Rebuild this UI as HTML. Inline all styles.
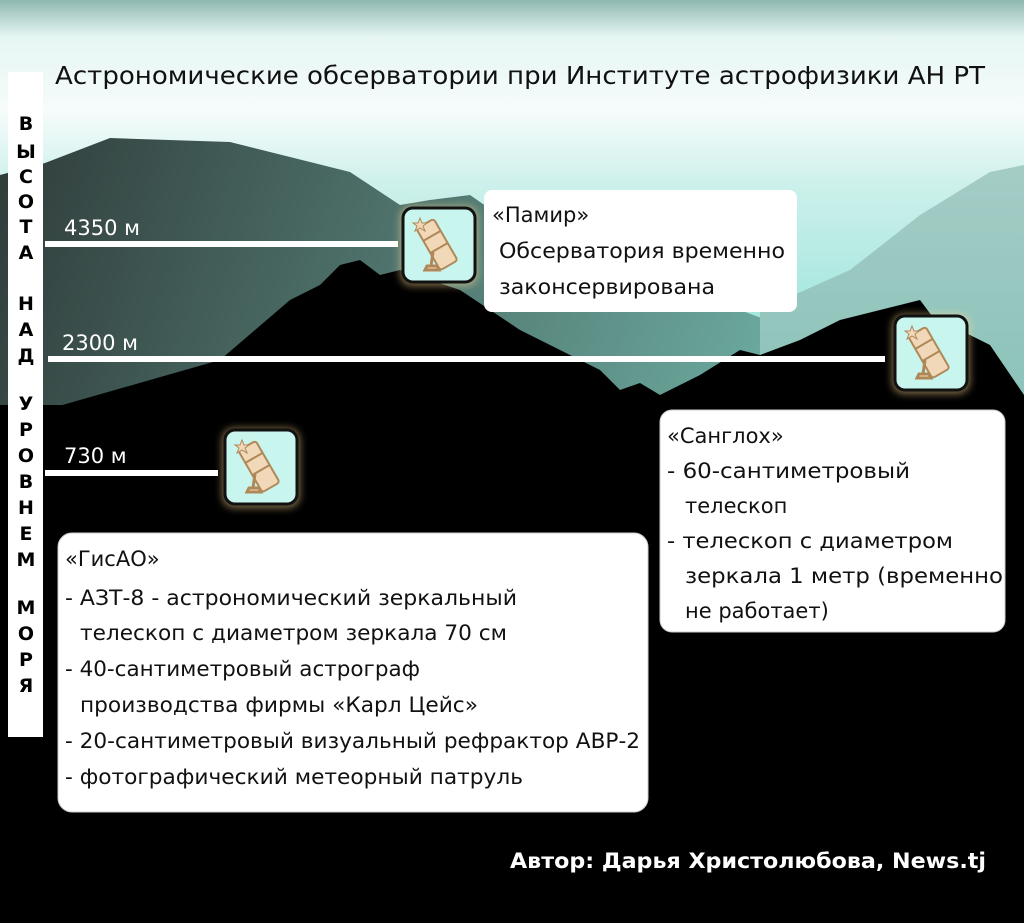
<!DOCTYPE html>
<html><head><meta charset="utf-8"><style>
html,body{margin:0;padding:0;background:#000}
svg{display:block}
text{font-family:"DejaVu Sans","Liberation Sans",sans-serif;}
</style></head><body>
<svg width="1024" height="923" viewBox="0 0 1024 923" xmlns="http://www.w3.org/2000/svg">
<defs>
<linearGradient id="sky" x1="0" y1="0" x2="0" y2="1">
<stop offset="0" stop-color="#8fb8b0"/>
<stop offset="0.04" stop-color="#e6f6f3"/>
<stop offset="0.12" stop-color="#f6fcfb"/>
<stop offset="0.2" stop-color="#cdf0eb"/>
<stop offset="0.4" stop-color="#92e3d8"/>
<stop offset="1" stop-color="#6fdccd"/>
</linearGradient>
<linearGradient id="back" x1="0" y1="0" x2="1" y2="0.3">
<stop offset="0" stop-color="#2f3c3a"/>
<stop offset="0.4" stop-color="#4a6a64"/>
<stop offset="1" stop-color="#6fb0a4"/>
</linearGradient>
<linearGradient id="right" x1="0" y1="0" x2="0" y2="1">
<stop offset="0" stop-color="#a4ccc5"/>
<stop offset="1" stop-color="#55b0a2"/>
</linearGradient>
<filter id="glow" x="-30%" y="-30%" width="160%" height="160%"><feGaussianBlur stdDeviation="4"/></filter>
<g id="tel">
<rect x="0" y="0" width="72" height="74" rx="10" fill="#c8f6ef" stroke="#111" stroke-width="3"/>
<g transform="translate(36,40) rotate(-30)">
<rect x="-10" y="-28" width="20" height="48" rx="3" fill="#f0d8b8" stroke="#b08858" stroke-width="2"/>
<line x1="-10" y1="-14" x2="10" y2="-14" stroke="#b08858" stroke-width="2"/>
<line x1="-10" y1="0" x2="10" y2="0" stroke="#b08858" stroke-width="2"/>
</g>
<path d="M30 44 L28 58 M22 62 L36 62 L34 58 L24 58 Z" stroke="#b08858" stroke-width="3" fill="#f0d8b8"/>
<polygon points="17,10 19,15 24,15 20,18 22,23 17,20 12,23 14,18 10,15 15,15" fill="#f0d8b8" stroke="#b08858"/>
</g>
</defs>
<rect width="1024" height="923" fill="url(#sky)"/>
<path d="M0 175 L45 163 L110 138 L230 142 L350 172 L400 205 L430 200 L470 195 L520 230 L580 270 L660 290 L740 310 L820 340 L820 923 L0 923 Z" fill="url(#back)"/>
<path d="M760 310 L850 270 L920 215 L990 172 L1024 165 L1024 923 L760 923 Z" fill="url(#right)"/>
<path d="M0 410 L45 410 L220 360 L290 300 L320 285 L340 265 L360 260 L380 275 L400 270 L460 290 L520 330 L560 350 L600 370 L620 390 L640 383 L660 395 L700 375 L740 350 L760 355 L800 340 L840 320 L880 310 L920 300 L935 320 L960 330 L990 345 L1024 395 L1024 923 L0 923 Z" fill="#000"/>
<rect x="0" y="405" width="1024" height="518" fill="#000"/>

<text x="55" y="84" font-size="25" textLength="930" lengthAdjust="spacingAndGlyphs" fill="#111">Астрономические обсерватории при Институте астрофизики АН РТ</text>

<rect x="8" y="72" width="35" height="665" fill="#fff"/>
<g font-size="19" font-weight="bold" fill="#000" text-anchor="middle">
<text x="26" y="130">В</text><text x="26" y="158">Ы</text><text x="26" y="183">С</text><text x="26" y="208">О</text><text x="26" y="233">Т</text><text x="26" y="259">А</text>
<text x="26" y="310">Н</text><text x="26" y="336">А</text><text x="26" y="362">Д</text>
<text x="26" y="410">У</text><text x="26" y="436">Р</text><text x="26" y="462">О</text><text x="26" y="488">В</text><text x="26" y="514">Н</text><text x="26" y="540">Е</text><text x="26" y="566">М</text>
<text x="26" y="614">М</text><text x="26" y="640">О</text><text x="26" y="666">Р</text><text x="26" y="692">Я</text>
</g>

<rect x="45" y="241" width="353" height="6" fill="#fff"/>
<rect x="48" y="356" width="837" height="6" fill="#fff"/>
<rect x="45" y="470" width="173" height="6" fill="#fff"/>
<g font-size="21" fill="#fff">
<text x="64" y="235">4350 м</text>
<text x="62" y="350">2300 м</text>
<text x="64" y="463">730 м</text>
</g>

<rect x="400" y="206" width="78" height="80" rx="12" fill="#ffd890" opacity="0.5" filter="url(#glow)"/>
<use href="#tel" x="403" y="208"/>
<rect x="892" y="314" width="78" height="80" rx="12" fill="#ffd890" opacity="0.5" filter="url(#glow)"/>
<use href="#tel" x="895" y="316"/>
<rect x="222" y="428" width="78" height="80" rx="12" fill="#ffd890" opacity="0.5" filter="url(#glow)"/>
<use href="#tel" x="225" y="430"/>

<rect x="484" y="190" width="313" height="122" rx="8" fill="#fff"/>
<g font-size="21" fill="#111">
<text x="492" y="222">«Памир»</text>
<text x="499" y="258" textLength="286" lengthAdjust="spacingAndGlyphs">Обсерватория временно</text>
<text x="499" y="294" textLength="216" lengthAdjust="spacingAndGlyphs">законсервирована</text>
</g>

<rect x="660" y="410" width="345" height="222" rx="12" fill="#fff" stroke="#ccc"/>
<g font-size="21" fill="#111">
<text x="667" y="443">«Санглох»</text>
<text x="667" y="478" textLength="243" lengthAdjust="spacingAndGlyphs">- 60-сантиметровый</text>
<text x="685" y="513">телескоп</text>
<text x="667" y="548" textLength="286" lengthAdjust="spacingAndGlyphs">- телескоп с диаметром</text>
<text x="685" y="583" textLength="318" lengthAdjust="spacingAndGlyphs">зеркала 1 метр (временно</text>
<text x="685" y="618">не работает)</text>
</g>

<rect x="58" y="533" width="590" height="279" rx="14" fill="#fff" stroke="#ccc"/>
<g font-size="21" fill="#111">
<text x="65" y="566">«ГисАО»</text>
<text x="65" y="605" textLength="452" lengthAdjust="spacingAndGlyphs">- АЗТ-8 - астрономический зеркальный</text>
<text x="80" y="640" textLength="427" lengthAdjust="spacingAndGlyphs">телескоп с диаметром зеркала 70 см</text>
<text x="65" y="676" textLength="355" lengthAdjust="spacingAndGlyphs">- 40-сантиметровый астрограф</text>
<text x="80" y="712" textLength="398" lengthAdjust="spacingAndGlyphs">производства фирмы «Карл Цейс»</text>
<text x="65" y="748" textLength="575" lengthAdjust="spacingAndGlyphs">- 20-сантиметровый визуальный рефрактор АВР-2</text>
<text x="65" y="784" textLength="458" lengthAdjust="spacingAndGlyphs">- фотографический метеорный патруль</text>
</g>

<text x="510" y="868" font-size="21" font-weight="bold" fill="#fff" textLength="476" lengthAdjust="spacingAndGlyphs">Автор: Дарья Христолюбова, News.tj</text>
</svg>
</body></html>
